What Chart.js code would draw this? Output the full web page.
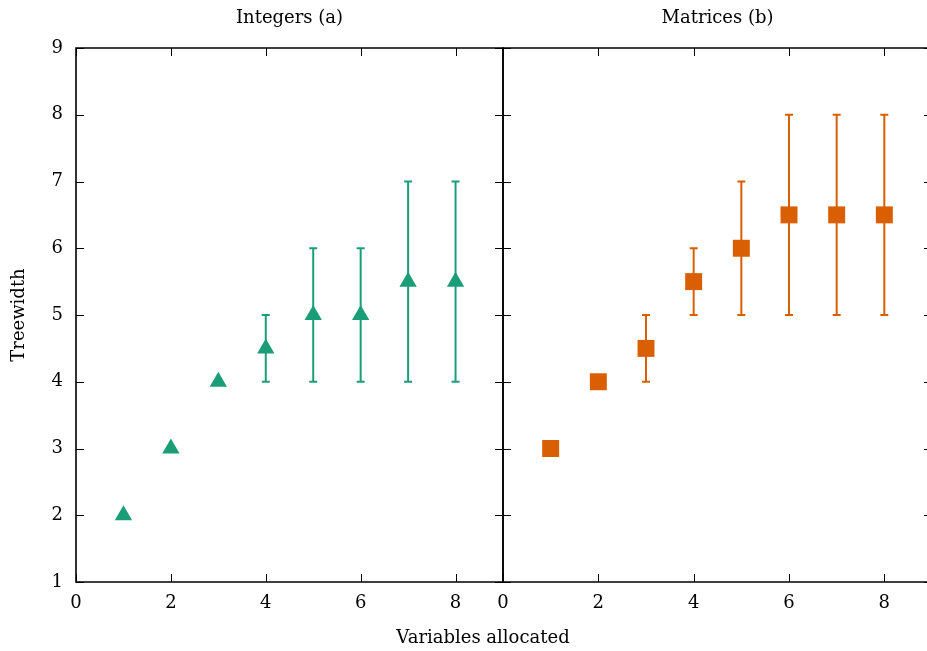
<!DOCTYPE html>
<html><head><meta charset="utf-8">
<script src="https://cdn.jsdelivr.net/npm/chart.js@4/dist/chart.umd.min.js"></script>
<style>
html,body{margin:0;padding:0;background:#fff;overflow:hidden;width:927px;height:651px;}
#wrap{position:relative;width:927px;height:651px;overflow:hidden;background:#fff;}
canvas{position:absolute;top:0;}
#xt{position:absolute;top:625px;left:333px;width:300px;text-align:center;font:18px "DejaVu Serif";color:#000;line-height:24px;}
</style></head><body>
<div id="wrap">
<canvas id="c1" width="504" height="651" style="left:0"></canvas>
<canvas id="c2" width="450" height="651" style="left:490px"></canvas>
<div id="xt">Variables allocated</div>
</div>
<script>
const variables = [1, 2, 3, 4, 5, 6, 7, 8];
const intMean = [2, 3, 4, 4.5, 5, 5, 5.5, 5.5];
const intLow  = [2, 3, 4, 4, 4, 4, 4, 4];
const intHigh = [2, 3, 4, 5, 6, 6, 7, 7];
const matMean = [3, 4, 4.5, 5.5, 6, 6.5, 6.5, 6.5];
const matLow  = [3, 4, 4, 5, 5, 5, 5, 5];
const matHigh = [3, 4, 5, 6, 7, 8, 8, 8];
const xTicks = [0, 2, 4, 6, 8];
const yTicks = [1, 2, 3, 4, 5, 6, 7, 8, 9];
const titles = ['Integers (a)', 'Matrices (b)'];
const yTitle = 'Treewidth';

const FONT = '"DejaVu Serif", serif';
const FS = 18;
const GREEN = '#1b9e77', ORANGE = '#d95f02';

const framePlugin = {
  id: 'frame',
  beforeDatasetsDraw(chart) {
    const {ctx, chartArea: a, scales: {x, y}} = chart;
    ctx.save();
    ctx.strokeStyle = '#000';
    ctx.lineWidth = 1.6;
    ctx.beginPath();
    ctx.rect(a.left, a.top, a.right - a.left, a.bottom - a.top);
    ctx.stroke();
    ctx.lineWidth = 1;
    const L = 8;
    ctx.beginPath();
    xTicks.forEach(v => {
      const px = Math.round(x.getPixelForValue(v)) + 0.5;
      ctx.moveTo(px, a.bottom); ctx.lineTo(px, a.bottom - L);
      ctx.moveTo(px, a.top); ctx.lineTo(px, a.top + L);
    });
    yTicks.forEach(v => {
      const py = Math.round(y.getPixelForValue(v)) + 0.5;
      ctx.moveTo(a.left, py); ctx.lineTo(a.left + L, py);
      ctx.moveTo(a.right, py); ctx.lineTo(a.right - L, py);
    });
    ctx.stroke();
    ctx.restore();
  }
};

const errPlugin = {
  id: 'errbars',
  beforeDatasetsDraw(chart, args, opts) {
    const {ctx, scales: {x, y}} = chart;
    ctx.save();
    ctx.strokeStyle = opts.color;
    ctx.lineWidth = 2;
    ctx.beginPath();
    opts.xs.forEach((xv, i) => {
      const lo = opts.low[i], hi = opts.high[i];
      if (lo === hi) return;
      const px = x.getPixelForValue(xv);
      const pl = y.getPixelForValue(lo), ph = y.getPixelForValue(hi);
      ctx.moveTo(px, pl); ctx.lineTo(px, ph);
      ctx.moveTo(px - 4, pl); ctx.lineTo(px + 4, pl);
      ctx.moveTo(px - 4, ph); ctx.lineTo(px + 4, ph);
    });
    ctx.stroke();
    ctx.restore();
  }
};

function makeChart(id, mean, low, high, color, style, radius, title, showY, pad) {
  return new Chart(document.getElementById(id), {
    type: 'scatter',
    data: {
      datasets: [{
        data: variables.map((v, i) => ({x: v, y: mean[i]})),
        backgroundColor: color,
        borderColor: color,
        pointStyle: style,
        pointRadius: radius,
        pointHoverRadius: radius,
        pointBorderWidth: 0,
        showLine: false
      }]
    },
    options: {
      responsive: false,
      animation: false,
      events: [],
      layout: {padding: pad, autoPadding: false},
      plugins: {
        legend: {display: false},
        tooltip: {enabled: false},
        title: {
          display: true, text: title, fullSize: false, color: '#000',
          font: {family: FONT, size: FS, weight: 'normal'},
          padding: {top: 8, bottom: 18.4}
        },
        errbars: {xs: variables, low: low, high: high, color: color}
      },
      scales: {
        x: {
          type: 'linear', min: 0, max: 9,
          grid: {display: false, drawTicks: false},
          border: {display: false},
          afterBuildTicks: s => { s.ticks = xTicks.map(v => ({value: v})); },
          afterFit: s => { s.height = 69; s.paddingLeft = 0; s.paddingRight = 0; },
          ticks: {color: '#000', font: {family: FONT, size: FS}, padding: 11, maxRotation: 0}
        },
        y: {
          type: 'linear', min: 1, max: 9, display: showY,
          grid: {display: false, drawTicks: false},
          border: {display: false},
          afterBuildTicks: s => { s.ticks = yTicks.map(v => ({value: v})); },
          afterFit: s => { if (showY) s.width = 76; },
          ticks: {color: '#000', font: {family: FONT, size: FS}, padding: 13},
          title: {display: showY, text: yTitle, color: '#000', font: {family: FONT, size: FS}, padding: {top: 9, bottom: 0}}
        }
      }
    },
    plugins: [framePlugin, errPlugin]
  });
}

makeChart('c1', intMean, intLow, intHigh, GREEN, 'triangle', 10, titles[0], true, {left: 0, right: 1, top: 0, bottom: 0});
makeChart('c2', matMean, matLow, matHigh, ORANGE, 'rect', 12, titles[1], false, {left: 13, right: 8, top: 0, bottom: 0});
</script>
</body></html>
